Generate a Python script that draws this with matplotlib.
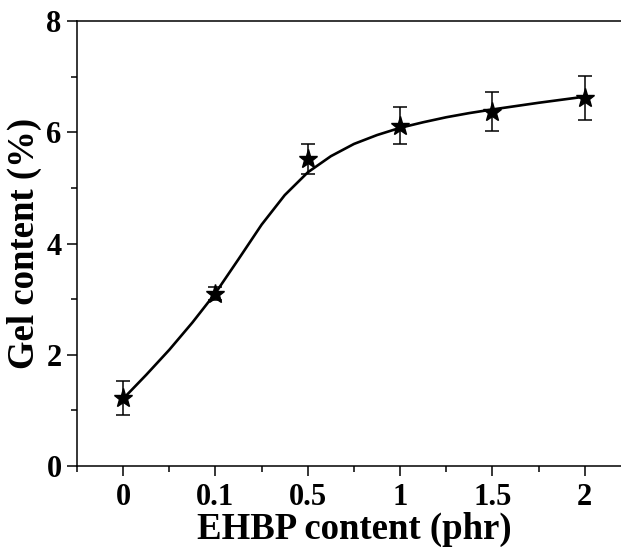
import matplotlib
matplotlib.use("Agg")
import matplotlib.pyplot as plt
from matplotlib.ticker import MultipleLocator

# EHBP loading (phr), plotted at evenly spaced positions
ehbp_labels = ["0", "0.1", "0.5", "1", "1.5", "2"]
gel_content = [1.22, 3.10, 5.52, 6.12, 6.37, 6.62]
gel_error = [0.30, 0.12, 0.27, 0.33, 0.35, 0.40]

# fitted trend line, sampled along the category axis
fit_pos = [0, 0.25, 0.5, 0.75, 1.0, 1.25, 1.5, 1.75, 2.0, 2.25,
           2.5, 2.75, 3.0, 3.25, 3.5, 3.75, 4.0, 4.5, 5.0]
fit_val = [1.21, 1.64, 2.09, 2.58, 3.11, 3.72, 4.34, 4.87, 5.28, 5.57,
           5.79, 5.95, 6.08, 6.18, 6.27, 6.345, 6.41, 6.53, 6.64]

plt.rcParams['font.family'] = ['Liberation Serif', 'DejaVu Serif']
plt.rcParams['font.weight'] = 'bold'

fig = plt.figure(figsize=(6.21, 5.47), dpi=100)
ax = fig.add_axes([0.124, 0.148, 0.892, 0.8136])

x = list(range(len(ehbp_labels)))
ax.plot(fit_pos, fit_val, color='k', lw=1.9, zorder=2)
ax.errorbar(x, gel_content, yerr=gel_error, fmt='none', ecolor='k',
            elinewidth=1.1, capsize=5, capthick=1.1, zorder=3)
ax.plot(x, gel_content, ls='none', marker='*', ms=14, color='k', zorder=4)

ax.set_xlim(-0.5, 5.5)
ax.set_ylim(0, 8)
ax.set_xticks(x)
ax.set_xticklabels(ehbp_labels)
ax.xaxis.set_minor_locator(MultipleLocator(0.5))
ax.yaxis.set_major_locator(MultipleLocator(2))
ax.yaxis.set_minor_locator(MultipleLocator(1))
ax.tick_params(which='both', direction='out', width=1.1, labelsize=22, pad=5)
ax.tick_params(which='major', length=7)
ax.tick_params(which='minor', length=4)
ax.tick_params(axis='y', pad=4)
for s in ax.spines.values():
    s.set_linewidth(1.1)

ax.set_xlabel("EHBP content (phr)", fontsize=26.5, fontweight='bold', labelpad=0)
ax.set_ylabel("Gel content (%)", fontsize=26.5, fontweight='bold', labelpad=3)

fig.savefig("out.png", dpi=100)
